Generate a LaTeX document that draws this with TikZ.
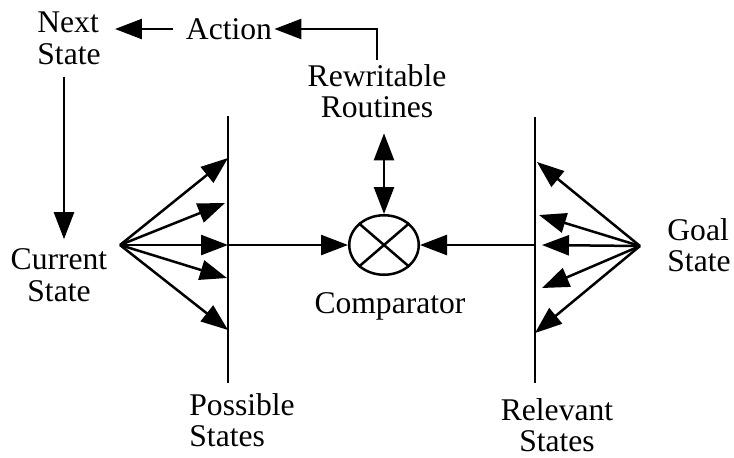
\documentclass[tikz,border=0pt]{standalone}
\usepackage{fontspec}
\setmainfont{Liberation Serif}
\usetikzlibrary{positioning, arrows.meta, shapes.geometric}

\begin{document}
\begin{tikzpicture}[
        x=0.5pt, y=-0.5pt,
        >={Triangle[length=13.5pt,width=10pt]},
        every node/.style={inner sep=0pt, font=\fontsize{15.8}{15.8}\selectfont},
        arr/.style={draw, line width=1.25pt, ->},
        dbl/.style={arr, <->},
        bar/.style={draw, line width=1.25pt}
    ]
    \useasboundingbox (0,0) rectangle (734,457);

    % Nodes
    \node (next) [anchor=west, align=left] at (37,38) {Next\\State};
    \node (action) at (229,29) {Action};
    \node (routines) [align=center] at (377,91) {Rewritable\\Routines};
    \node (comparator) [ellipse, draw, line width=1.25pt, minimum width=34.75pt, minimum height=29.75pt] at (384,245) {};
    \node (complabel) [below=8pt of comparator, xshift=3pt] {Comparator};
    \node (current) [align=center] at (59,275) {Current\\State};
    \node (possible) [anchor=west, align=left] at (189,420) {Possible\\States};
    \node (relevant) [align=center] at (557,425) {Relevant\\States};
    \node (goal) [anchor=west, align=left] at (667,245) {Goal\\State};

    % Bars
    \coordinate (ptop) at (228,116);
    \coordinate (pbot) at (228,383);
    \coordinate (rtop) at (535,117);
    \coordinate (rbot) at (535,383);
    \coordinate (rmid) at (535,245);
    \path[bar] (ptop) -- (pbot);
    \path[bar] (rtop) -- (rbot);

    % Fans
    \coordinate (cs) at (120,245);
    \coordinate (gs) at (640,246);
    \foreach \x/\y [count=\i] in {228/158, 225/203, 228/245, 227/278, 228/330}
        \coordinate (p\i) at (\x,\y);
    \foreach \x/\y [count=\i] in {537/162, 539/215, 542/245, 542/288, 535/333}
        \coordinate (g\i) at (\x,\y);
    \foreach \i in {1,...,5} {
        \path[arr] (cs) -- (p\i);
        \path[arr] (gs) -- (g\i);
    }

    % Comparator
    \draw[line width=1.25pt] (comparator.north west) -- (comparator.south east)
        (comparator.north east) -- (comparator.south west);
    \path[arr] (p3) -- (comparator.west);
    \path[arr] (rmid) -- (comparator.east);
    \path[dbl, shorten <=7.5pt] (comparator.north |- routines.south) -- (comparator.north);

    % Top loop
    \path[arr, shorten >=1pt] ([yshift=2pt]routines.north) |- (action);
    \path[arr, shorten <=6.5pt, shorten >=7pt] (action.west) -- (action.west -| next.east);
    \path[arr, shorten <=6pt, shorten >=4.5pt] ([xshift=-2.5pt]next.south) -- ([xshift=-2.5pt]next.south |- current.north);
\end{tikzpicture}
\end{document}
